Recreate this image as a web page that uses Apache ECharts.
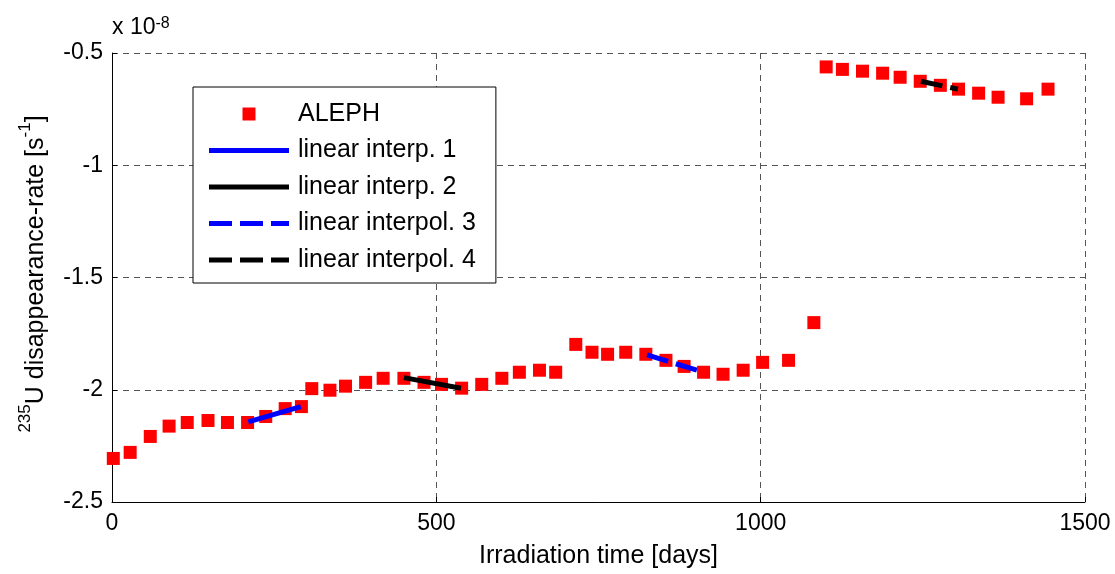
<!DOCTYPE html>
<html>
<head>
<meta charset="utf-8">
<script src="https://cdn.jsdelivr.net/npm/echarts@6/dist/echarts.min.js"></script>
<style>
html,body{margin:0;padding:0;background:#fff;}
#chart{width:1115px;height:574px;}
</style>
</head>
<body>
<div id="chart"></div>
<script>
// ALEPH data (values in units of 1e-8 s^-1)
const alephDays = [2, 28, 59, 88, 116, 148, 178, 209, 237, 267, 292, 308, 336, 360, 391, 418, 450, 481, 508,
  539, 570, 601, 628, 659, 684, 715, 740, 764, 792, 823, 854, 882, 912, 942, 973, 1003, 1043, 1082,
  1101, 1126, 1157, 1188, 1215, 1246, 1277, 1305, 1336, 1366, 1410, 1443];
const alephRate = [-2.306, -2.279, -2.208, -2.162, -2.146, -2.137, -2.146, -2.146, -2.119, -2.084, -2.075, -1.995, -2.002, -1.984, -1.967, -1.949, -1.949, -1.967, -1.976,
  -1.993, -1.976, -1.949, -1.922, -1.913, -1.922, -1.798, -1.833, -1.842, -1.833, -1.842, -1.869, -1.896, -1.922, -1.931, -1.913, -1.878, -1.869, -1.701,
  -0.562, -0.573, -0.581, -0.590, -0.608, -0.626, -0.644, -0.661, -0.679, -0.697, -0.704, -0.661];
const interp1Days = [210, 291];
const interp1Rate = [-2.143, -2.075];
const interp2Days = [450, 538];
const interp2Rate = [-1.946, -1.993];
const interp3Days = [825, 905];
const interp3Rate = [-1.845, -1.916];
const interp4Days = [1247, 1304];
const interp4Rate = [-0.626, -0.661];
const xTicks = [0, 500, 1000, 1500];
const yTicks = [-2.5, -2, -1.5, -1, -0.5];
const seriesNames = ['ALEPH', 'linear interp. 1', 'linear interp. 2', 'linear interpol. 3', 'linear interpol. 4'];

const zip = (a, b) => a.map((v, i) => [v, b[i]]);
const FONT = "'Liberation Sans', Arial, sans-serif";

// legend icons drawn in an 80x14 box (first two moveTo's fix the bounding box)
const BOX = 'path://M0,0M80,14';
const iconSquare = BOX + 'M33.5,0.5h13v13h-13z';
const iconSolid = BOX + 'M0,4.5h80v5h-80z';
const iconDashed = BOX + 'M0,4.5h23v5h-23zM31,4.5h23v5h-23zM62,4.5h18v5h-18z';

const chart = echarts.init(document.getElementById('chart'), null, {renderer: 'canvas'});
chart.setOption({
  animation: false,
  backgroundColor: '#fff',
  grid: {left: 112, right: 30, top: 53, bottom: 71, containLabel: false},
  xAxis: {
    type: 'value', min: xTicks[0], max: xTicks[xTicks.length - 1], interval: 500,
    axisLine: {show: true, lineStyle: {color: '#000', width: 1}},
    axisTick: {show: true, inside: true, length: 5, lineStyle: {color: '#000'}},
    axisLabel: {color: '#000', fontSize: 23, fontFamily: FONT, margin: 10, formatter: v => String(v)},
    splitLine: {show: true, lineStyle: {color: '#555', width: 1, type: [6, 5]}},
    name: 'Irradiation time [days]', nameLocation: 'middle', nameGap: 42,
    nameTextStyle: {color: '#000', fontSize: 25, fontFamily: FONT}
  },
  yAxis: {
    type: 'value', min: yTicks[0], max: yTicks[yTicks.length - 1], interval: 0.5,
    axisLine: {show: true, onZero: false, lineStyle: {color: '#000', width: 1}},
    axisTick: {show: true, inside: true, length: 5, lineStyle: {color: '#000'}},
    axisLabel: {color: '#000', fontSize: 23, fontFamily: FONT, margin: 9, formatter: v => String(v)},
    splitLine: {show: true, lineStyle: {color: '#555', width: 1, type: [6, 5]}}
  },
  legend: {
    orient: 'vertical', left: 193, top: 87,
    backgroundColor: '#fff', borderColor: '#000', borderWidth: 1,
    padding: [14, 20, 10, 16],
    itemWidth: 80, itemHeight: 14, itemGap: 10.5,
    itemStyle: {borderWidth: 0},
    textStyle: {color: '#000', fontSize: 25, lineHeight: 26, fontFamily: FONT, padding: [0, 0, 0, 4]},
    data: [
      {name: seriesNames[0], icon: iconSquare},
      {name: seriesNames[1], icon: iconSolid},
      {name: seriesNames[2], icon: iconSolid},
      {name: seriesNames[3], icon: iconDashed},
      {name: seriesNames[4], icon: iconDashed}
    ]
  },
  graphic: [
    {
      type: 'text', left: 112, top: 16, z: 10,
      style: {
        text: 'x 10{s|-8}', fill: '#000', font: '23px ' + FONT,
        rich: {s: {fontSize: 16, fontFamily: FONT, verticalAlign: 'top', lineHeight: 16, fill: '#000'}}
      }
    },
    {
      type: 'text', x: 33, y: 274, rotation: Math.PI / 2, z: 10,
      style: {
        text: '{s|235}{n|U disappearance-rate [s}{s|-1}{n|]}',
        align: 'center', verticalAlign: 'middle', fill: '#000',
        rich: {
          n: {fontSize: 25, fontFamily: FONT, lineHeight: 32, fill: '#000', verticalAlign: 'bottom'},
          s: {fontSize: 17, fontFamily: FONT, lineHeight: 17, fill: '#000', verticalAlign: 'top'}
        }
      }
    }
  ],
  series: [
    {
      name: seriesNames[0], type: 'scatter', symbol: 'rect', symbolSize: 13,
      itemStyle: {color: '#ff0000', opacity: 1}, data: zip(alephDays, alephRate), z: 2
    },
    {
      name: seriesNames[1], type: 'line', symbol: 'none', showSymbol: false,
      lineStyle: {color: '#0000ff', width: 5, type: 'solid'}, itemStyle: {color: '#0000ff', borderWidth: 0},
      data: zip(interp1Days, interp1Rate), z: 3
    },
    {
      name: seriesNames[2], type: 'line', symbol: 'none', showSymbol: false,
      lineStyle: {color: '#000', width: 5, type: 'solid'}, itemStyle: {color: '#000', borderWidth: 0},
      data: zip(interp2Days, interp2Rate), z: 3
    },
    {
      name: seriesNames[3], type: 'line', symbol: 'none', showSymbol: false,
      lineStyle: {color: '#0000ff', width: 5, type: [22, 8]}, itemStyle: {color: '#0000ff', borderWidth: 0},
      data: zip(interp3Days, interp3Rate), z: 3
    },
    {
      name: seriesNames[4], type: 'line', symbol: 'none', showSymbol: false,
      lineStyle: {color: '#000', width: 5, type: [22, 8]}, itemStyle: {color: '#000', borderWidth: 0},
      data: zip(interp4Days, interp4Rate), z: 3
    }
  ]
});
</script>
</body>
</html>
